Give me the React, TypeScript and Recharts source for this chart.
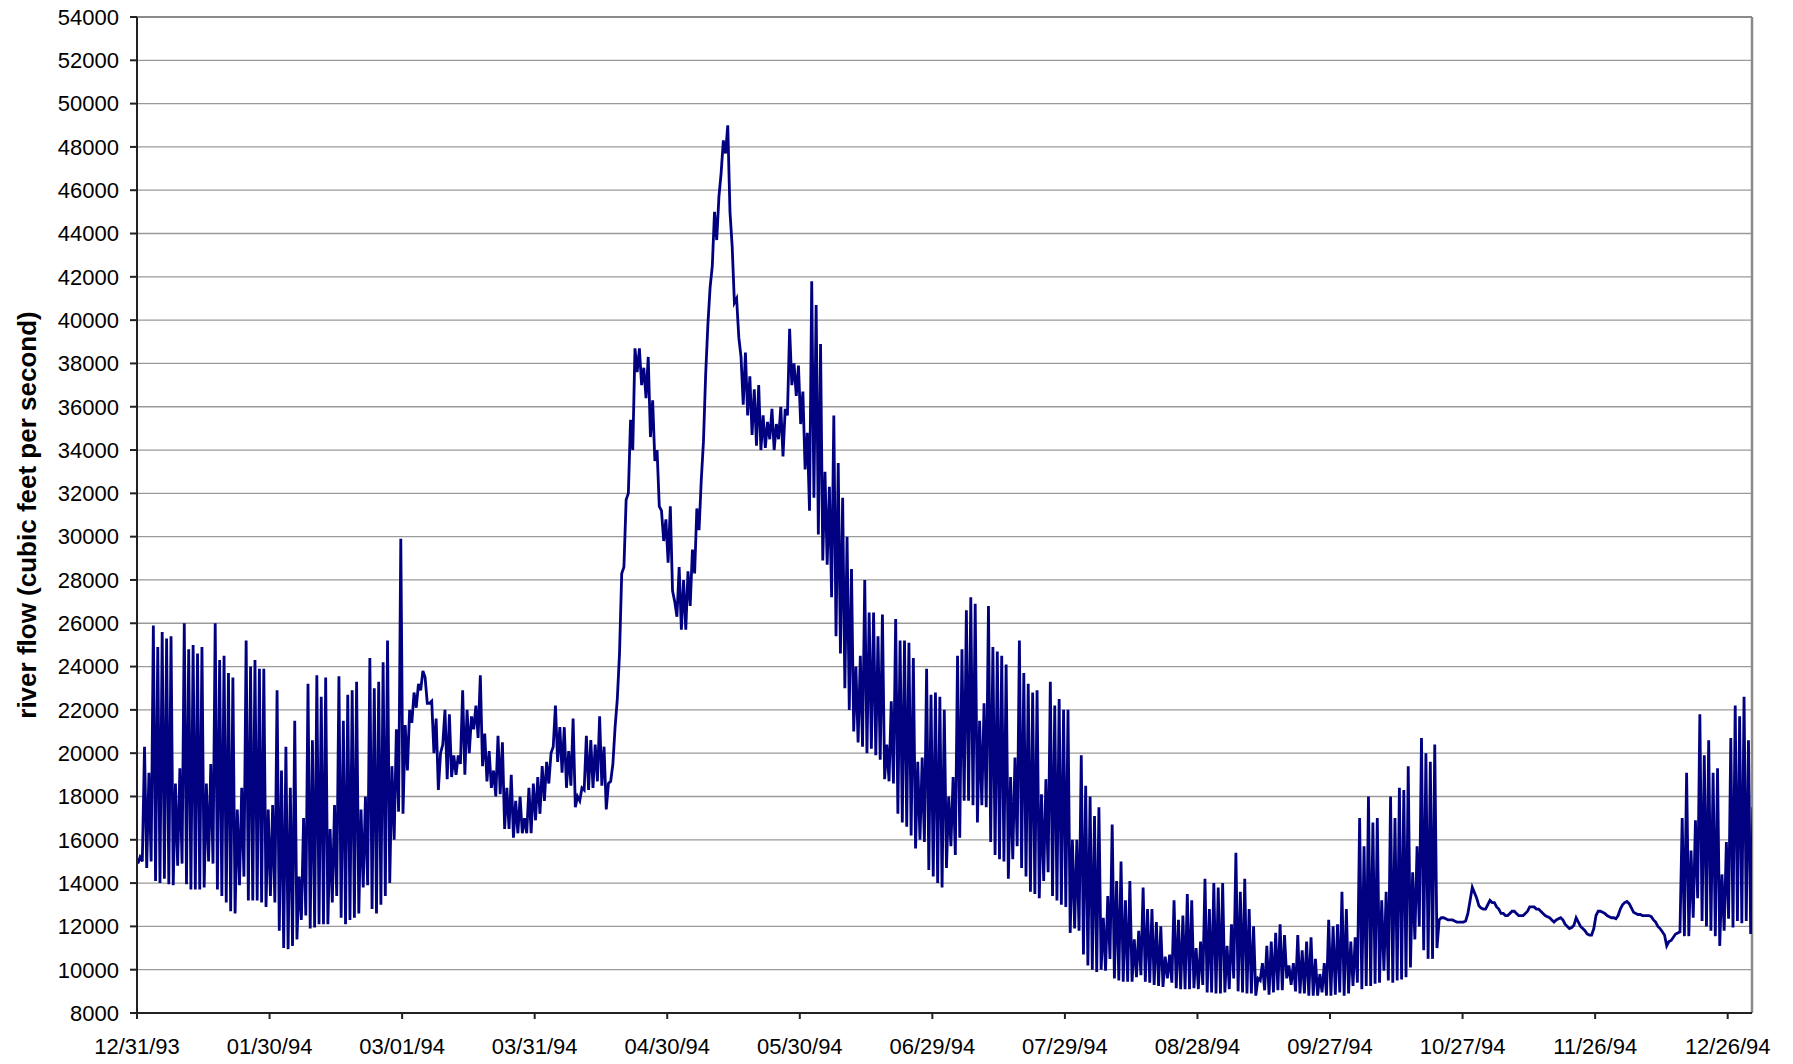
import { CartesianGrid, Line, LineChart, ReferenceLine, XAxis, YAxis } from "recharts";

// x is days since 12/31/93; each day holds [morning low, evening peak] in cfs
const dateTicks = [0, 30, 60, 90, 120, 150, 180, 210, 240, 270, 300, 330, 360];
const dateLabels = [
  "12/31/93", "01/30/94", "03/01/94", "03/31/94", "04/30/94", "05/30/94", "06/29/94",
  "07/29/94", "08/28/94", "09/27/94", "10/27/94", "11/26/94", "12/26/94",
];
const flowTicks = [
  8000, 10000, 12000, 14000, 16000, 18000, 20000, 22000, 24000, 26000, 28000, 30000,
  32000, 34000, 36000, 38000, 40000, 42000, 44000, 46000, 48000, 50000, 52000, 54000,
];

const dec93 = [[14900, 15200]];
const jan94 = [
  [15000, 20300], [14700, 19100], [15000, 25900], [14100, 24900], [14000, 25600], [14200, 25300], [13950, 25400],
  [13900, 18600], [14800, 19300], [14900, 26000], [13950, 24800], [13700, 25000], [13700, 24600], [13700, 24900],
  [13800, 18600], [15000, 19500], [14900, 26000], [13700, 24300], [13400, 24500], [13100, 23700], [12700, 23500],
  [12600, 17400], [13900, 18400], [14300, 25200], [13200, 24000], [13200, 24300], [13200, 23900], [13100, 23900],
  [12900, 17400], [13400, 17600], [13100, 22900],
];
const feb94 = [
  [11800, 19200], [11000, 20300], [10950, 18400], [11100, 21500], [11400, 14300], [12300, 17000], [12500, 23200],
  [11900, 20600], [11950, 23600], [12100, 22600], [12100, 23500], [12100, 16500], [13100, 17600], [13400, 23550],
  [12400, 21500], [12100, 22700], [12300, 22900], [12400, 23300], [12600, 17400], [13800, 18000], [13900, 24400],
  [12800, 23000], [12600, 23300], [13000, 24200], [13400, 25200], [14000, 19400], [16000, 21100], [17300, 29900],
];
const mar94 = [
  [17200, 21300], [19200, 22000], [21400, 22800], [22100, 23200], [22900, 23800], [23500, 22300], [22300, 22400],
  [20000, 21600], [18300, 20000], [20400, 22000], [18800, 21800], [18900, 19900], [19000, 19900], [19500, 22900],
  [19000, 22000], [20000, 21700], [21100, 22200], [20700, 23600], [19400, 20900], [18700, 20100], [18400, 19200],
  [18000, 20800], [18100, 20500], [16500, 18400], [16500, 19000], [16100, 17800], [16300, 18000], [16300, 17000],
  [16300, 18400], [16300, 18600], [16900, 18900],
];
const apr94 = [
  [17200, 19400], [17800, 19600], [18600, 20000], [20300, 22200], [19600, 21200], [19100, 21200], [18400, 20100],
  [18500, 21600], [17500, 18000], [17800, 18400], [18300, 20800], [18300, 20600], [18400, 20400], [18700, 21700],
  [18500, 20300], [17400, 18600], [18700, 19500], [21200, 22500], [24600, 28300], [28600, 31700], [32000, 35400],
  [34000, 38700], [37600, 38700], [37000, 37800], [36400, 38300], [34600, 36300], [33500, 34000], [31400, 31200],
  [29800, 30800], [28800, 31400],
];
const may94 = [
  [27500, 27000], [26300, 28600], [25700, 28000], [25700, 28400], [26800, 29400], [28300, 31300], [30300, 32600],
  [34400, 37500], [39800, 41500], [42500, 45000], [43700, 45700], [46800, 48300], [47700, 49000], [45000, 43400],
  [40800, 41000], [39200, 38300], [36100, 38500], [35600, 37400], [34700, 36800], [34200, 37000], [34000, 35600],
  [34100, 35300], [34500, 35900], [34000, 35200], [34500, 36000], [33700, 35900], [35600, 39600], [37000, 38000],
  [36500, 37900], [35200, 36700], [33100, 34800],
];
const jun94 = [
  [31200, 41800], [31800, 40700], [30100, 38900], [28900, 33000], [28700, 32300], [27200, 35600], [25400, 33400],
  [24600, 31800], [23000, 30000], [22000, 28500], [21000, 24000], [20500, 24500], [20300, 28000], [20000, 26500],
  [20200, 26500], [19900, 25400], [19700, 26400], [18800, 20400], [18700, 22400], [18600, 26200], [17200, 25200],
  [16800, 25200], [16600, 25100], [16200, 24400], [15600, 19600], [16000, 19800], [15900, 23900], [14600, 22700],
  [14300, 22800], [14000, 22600],
];
const jul94 = [
  [13800, 22000], [14700, 18000], [15700, 18900], [15300, 24500], [16100, 24800], [17800, 26600], [17800, 27200],
  [17600, 26900], [16800, 21500], [17600, 22300], [17500, 26800], [15900, 24900], [15300, 24700], [15100, 24500],
  [15000, 24100], [14200, 18900], [15100, 19800], [15700, 25200], [14700, 23700], [14300, 23200], [13600, 22800],
  [13500, 22900], [13300, 18100], [14100, 18800], [14500, 23300], [13400, 22200], [13200, 22500], [13000, 22000],
  [12900, 22000], [11700, 16000], [11900, 16000],
];
const aug94 = [
  [11800, 19900], [10700, 18500], [10200, 18000], [10000, 17100], [9900, 17500], [10000, 12400], [9950, 13400],
  [10500, 16700], [9600, 14100], [9500, 15000], [9450, 13200], [9450, 14100], [9450, 11400], [9650, 11800],
  [9750, 13800], [9450, 12800], [9400, 12800], [9300, 12200], [9250, 12000], [9200, 10600], [9600, 10700],
  [9400, 13200], [9150, 12300], [9100, 12500], [9100, 13500], [9100, 13200], [9150, 11000], [9100, 11300],
  [9300, 14200], [8950, 12800], [8950, 14000],
];
const sep94 = [
  [8900, 13800], [8900, 14000], [8950, 11100], [9100, 12100], [9600, 15400], [9000, 13600], [8950, 14200],
  [8900, 12800], [8900, 12000], [8800, 9600], [9500, 10300], [9050, 11100], [8850, 11300], [8950, 11700],
  [9050, 12100], [9050, 11600], [9600, 10200], [9300, 10300], [9000, 11600], [8900, 10900], [8900, 11300],
  [8800, 11500], [8800, 10500], [8800, 9800], [8950, 10300], [8800, 12300], [8800, 12000], [8850, 12100],
  [8950, 13600], [8800, 12800],
];
const oct94 = [
  [8900, 11300], [9250, 11500], [9400, 17000], [9100, 15700], [9250, 18000], [9250, 16800], [9350, 17000],
  [9400, 13200], [9950, 13600], [9500, 18000], [9400, 17000], [9500, 18400], [9550, 18300], [9650, 19400],
  [10100, 14500], [11400, 15700], [12000, 20700], [10900, 20000], [10500, 19600], [10500, 20400], [11000, 12300],
  [12400, 12400], [12350, 12300], [12300, 12300], [12250, 12200], [12200, 12200], [12200, 12250], [12600, 13200],
  [13800, 13550], [13300, 12950], [12850, 12800],
];
const nov94 = [
  [12800, 13000], [13200, 13100], [13100, 12900], [12800, 12600], [12600, 12500], [12500, 12600], [12700, 12700],
  [12600, 12500], [12500, 12500], [12600, 12700], [12900, 12900], [12900, 12800], [12800, 12700], [12600, 12500],
  [12450, 12400], [12300, 12200], [12300, 12350], [12400, 12300], [12100, 12000], [11900, 11950], [12050, 12400],
  [12200, 12000], [11900, 11800], [11650, 11600], [11600, 11900], [12500, 12700], [12700, 12650], [12600, 12500],
  [12450, 12400], [12400, 12350],
];
const dec94 = [
  [12500, 12800], [13000, 13100], [13150, 13050], [12850, 12650], [12600, 12550], [12550, 12500], [12500, 12500],
  [12500, 12450], [12300, 12200], [12000, 11900], [11750, 11600], [11100, 11300], [11350, 11500], [11650, 11700],
  [11750, 17000], [11550, 19100], [11550, 15500], [12400, 16900], [13300, 21800], [12250, 19900], [12000, 20600],
  [11800, 19100], [11550, 19300], [11100, 14400], [11800, 15900], [12350, 20700], [11950, 22200], [12250, 21700],
  [12150, 22600], [12250, 20600], [11650, 17500],
];

const months = [dec93, jan94, feb94, mar94, apr94, may94, jun94, jul94, aug94, sep94, oct94, nov94, dec94];

function buildSeries() {
  const out: { t: number; flow: number }[] = [];
  let day = 0;
  for (const month of months) {
    for (const [am, pm] of month) {
      out.push({ t: day + 0.2, flow: am });
      out.push({ t: day + 0.7, flow: pm });
      day += 1;
    }
  }
  return out;
}

const data = buildSeries();
const font = "'Liberation Sans', Arial, sans-serif";

export default function App() {
  const tick = { fontSize: 22, fill: "#000", fontFamily: font };
  // fixed to the viewport corner so the chart can use the full window without scrollbars
  return (
    <div style={{ position: "fixed", left: 0, top: 0, width: 1793, height: 1064, background: "#fff", fontFamily: font }}>
      <LineChart width={1793} height={1064} data={data} margin={{ top: 17, right: 41, bottom: 0, left: 0 }}>
        <CartesianGrid vertical={false} stroke="#9a9a9a" strokeWidth={1.3} />
        <XAxis
          type="number"
          dataKey="t"
          domain={[0, 365.5]}
          allowDataOverflow
          ticks={dateTicks}
          interval={0}
          tickFormatter={(v) => dateLabels[dateTicks.indexOf(v)] ?? ""}
          height={51}
          tickSize={6}
          tickMargin={19}
          tick={tick}
          axisLine={{ stroke: "#222", strokeWidth: 2 }}
          tickLine={{ stroke: "#222", strokeWidth: 2 }}
        />
        <YAxis
          domain={[8000, 54000]}
          ticks={flowTicks}
          interval={0}
          width={137}
          tickSize={7}
          tickMargin={11}
          tick={tick}
          axisLine={{ stroke: "#222", strokeWidth: 2 }}
          tickLine={{ stroke: "#222", strokeWidth: 2 }}
        />
        <ReferenceLine y={54000} stroke="#8a8a8a" strokeWidth={2} />
        <ReferenceLine x={365.5} stroke="#8a8a8a" strokeWidth={2.5} />
        <Line
          type="linear"
          dataKey="flow"
          stroke="#000080"
          strokeWidth={2.8}
          dot={false}
          isAnimationActive={false}
        />
      </LineChart>
      <div
        style={{
          position: "absolute",
          left: 27,
          top: 515,
          transform: "translate(-50%, -50%) rotate(-90deg)",
          whiteSpace: "nowrap",
          fontWeight: "bold",
          fontSize: 26,
          color: "#000",
        }}
      >
        river flow (cubic feet per second)
      </div>
    </div>
  );
}
